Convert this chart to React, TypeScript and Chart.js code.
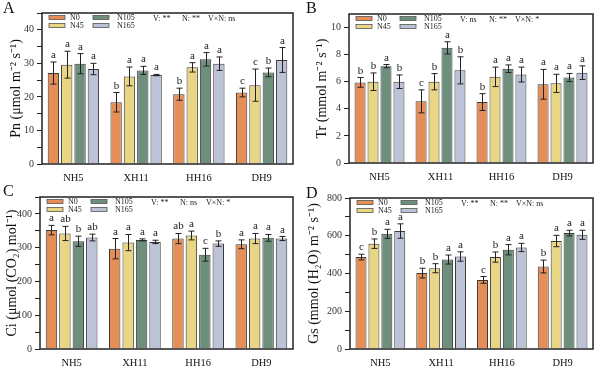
import React, { useEffect, useRef } from 'react';
import { Chart, registerables } from 'chart.js';

Chart.register(...registerables);

const categories = ['NH5', 'XH11', 'HH16', 'DH9'];
const seriesNames = ['N0', 'N45', 'N105', 'N165'];
const seriesColors = ['#E58E57', '#E9D684', '#6F8F7D', '#BCC3D6'];

// Panel A: Pn  (rows = series N0, N45, N105, N165; columns = categories)
const pnMeans = [
  [27.1, 18.4, 20.8, 21.3],
  [29.6, 26.1, 28.8, 23.5],
  [29.9, 27.9, 31.2, 27.3],
  [28.3, 26.5, 29.9, 31.0],
];
const pnErrors = [
  [3.3, 2.9, 1.8, 1.3],
  [4.0, 2.8, 1.4, 4.8],
  [3.0, 1.2, 2.0, 1.3],
  [1.7, 0.2, 2.0, 3.7],
];
const pnLetters = [
  ['a', 'b', 'b', 'c'],
  ['a', 'a', 'a', 'c'],
  ['a', 'a', 'a', 'b'],
  ['a', 'a', 'a', 'a'],
];
const pnStats = ['V: **', 'N: **', 'V×N: ns'];

// Panel B: Tr
const trMeans = [
  [5.95, 4.55, 4.5, 5.81],
  [6.0, 6.0, 6.36, 5.88],
  [7.15, 8.5, 6.96, 6.31],
  [6.0, 6.84, 6.53, 6.67],
];
const trErrors = [
  [0.36, 0.85, 0.62, 1.1],
  [0.65, 0.6, 0.72, 0.67],
  [0.12, 0.45, 0.28, 0.3],
  [0.5, 1.0, 0.55, 0.5],
];
const trLetters = [
  ['b', 'c', 'b', 'a'],
  ['b', 'b', 'a', 'a'],
  ['a', 'a', 'a', 'a'],
  ['b', 'b', 'a', 'a'],
];
const trStats = ['V: ns', 'N: **', 'V×N: *'];

// Panel C: Ci
const ciMeans = [
  [352, 297, 327, 310],
  [342, 315, 336, 327],
  [319, 323, 279, 329],
  [330, 317, 312, 327],
];
const ciErrors = [
  [14, 30, 15, 13],
  [21, 24, 13, 15],
  [15, 3, 19, 10],
  [10, 5, 8, 6],
];
const ciLetters = [
  ['a', 'a', 'ab', 'a'],
  ['ab', 'a', 'a', 'a'],
  ['b', 'a', 'c', 'a'],
  ['ab', 'a', 'b', 'a'],
];
const ciStats = ['V: **', 'N: ns', 'V×N: *'];

// Panel D: Gs
const gsMeans = [
  [487, 402, 366, 437],
  [558, 428, 487, 572],
  [610, 474, 526, 614],
  [625, 490, 538, 605],
];
const gsErrors = [
  [15, 26, 18, 34],
  [25, 24, 27, 30],
  [24, 24, 27, 15],
  [38, 25, 22, 24],
];
const gsLetters = [
  ['c', 'b', 'c', 'b'],
  ['b', 'b', 'b', 'a'],
  ['a', 'a', 'a', 'a'],
  ['a', 'a', 'a', 'a'],
];
const gsStats = ['V: **', 'N: **', 'V×N: ns'];

const SERIF = '"Liberation Serif", "Times New Roman", serif';

type PanelCfg = {
  letter: string;
  title: string;
  means: number[][];
  errors: number[][];
  letters: string[][];
  stats: string[];
  yMax: number;
  step: number;
  major: number;
  left: number;
  top: number;
  yWidth: number;
  xHeight: number;
  padTop: number;
  padRight: number;
  titlePad: number;
  letterX: number;
  letterY: number;
};

const panels: PanelCfg[] = [
  {
    letter: 'A', title: 'Pn (μmol m⁻² s⁻¹)', means: pnMeans, errors: pnErrors, letters: pnLetters, stats: pnStats,
    yMax: 45, step: 5, major: 10, left: 0, top: 0, yWidth: 42, xHeight: 19, padTop: 13, padRight: 7, titlePad: 8,
    letterX: 3, letterY: 13,
  },
  {
    letter: 'B', title: 'Tr (mmol m⁻² s⁻¹)', means: trMeans, errors: trErrors, letters: trLetters, stats: trStats,
    yMax: 11, step: 1, major: 2, left: 300, top: 0, yWidth: 49, xHeight: 20, padTop: 14, padRight: 7, titlePad: 14,
    letterX: 6, letterY: 13,
  },
  {
    letter: 'C', title: 'Ci (μmol (CO₂) mol⁻¹)', means: ciMeans, errors: ciErrors, letters: ciLetters, stats: ciStats,
    yMax: 450, step: 50, major: 100, left: 0, top: 183, yWidth: 40, xHeight: 17, padTop: 14, padRight: 7, titlePad: 4,
    letterX: 3, letterY: 13,
  },
  {
    letter: 'D', title: 'Gs (mmol (H₂O) m⁻² s⁻¹)', means: gsMeans, errors: gsErrors, letters: gsLetters, stats: gsStats,
    yMax: 800, step: 100, major: 200, left: 300, top: 183, yWidth: 50, xHeight: 17, padTop: 15, padRight: 7, titlePad: 6,
    letterX: 6, letterY: 15,
  },
];

function Panel({ cfg }: { cfg: PanelCfg }) {
  const ref = useRef<HTMLCanvasElement>(null);
  useEffect(() => {
    if (!ref.current) return;
    const overlay = {
      id: 'overlay',
      afterDatasetsDraw(chart: any) {
        const ctx = chart.ctx as CanvasRenderingContext2D;
        const ys = chart.scales.y;
        const a = chart.chartArea;
        ctx.save();
        // error bars + letters
        cfg.means.forEach((row, i) => {
          const meta = chart.getDatasetMeta(i);
          row.forEach((m, j) => {
            const el = meta.data[j];
            const x = Math.round(el.x) + 0.5;
            const e = cfg.errors[i][j];
            const yt = ys.getPixelForValue(m + e);
            const yb = ys.getPixelForValue(m - e);
            ctx.strokeStyle = '#222';
            ctx.lineWidth = 1;
            ctx.beginPath();
            ctx.moveTo(x, yt);
            ctx.lineTo(x, yb);
            ctx.moveTo(x - 3, yt);
            ctx.lineTo(x + 3, yt);
            ctx.moveTo(x - 3, yb);
            ctx.lineTo(x + 3, yb);
            ctx.stroke();
            ctx.fillStyle = '#222';
            ctx.font = `11px ${SERIF}`;
            ctx.textAlign = 'center';
            ctx.textBaseline = 'alphabetic';
            ctx.fillText(cfg.letters[i][j], x, yt - 4);
          });
        });
        // frame
        ctx.strokeStyle = '#222';
        ctx.lineWidth = 1.5;
        ctx.strokeRect(a.left, a.top, a.right - a.left, a.bottom - a.top);
        // legend
        const rows = [a.top + 4.5, a.top + 12.5];
        const cols = [
          [a.left + 7, a.left + 28],
          [a.left + 51, a.left + 75],
        ];
        ctx.font = `8px ${SERIF}`;
        ctx.textAlign = 'left';
        ctx.textBaseline = 'middle';
        seriesNames.forEach((name, i) => {
          const c = cols[Math.floor(i / 2)];
          const y = rows[i % 2];
          ctx.fillStyle = seriesColors[i];
          ctx.fillRect(c[0], y - 2, 16, 4);
          ctx.strokeStyle = '#555';
          ctx.lineWidth = 0.8;
          ctx.strokeRect(c[0], y - 2, 16, 4);
          ctx.fillStyle = '#222';
          ctx.fillText(name, c[1], y);
        });
        const statX = [a.left + 111, a.left + 140, a.left + 166];
        cfg.stats.forEach((s, k) => {
          ctx.fillText(s, statX[k], rows[0] + 1.5);
        });
        // panel letter
        ctx.font = `16px ${SERIF}`;
        ctx.textBaseline = 'alphabetic';
        ctx.fillStyle = '#111';
        ctx.fillText(cfg.letter, cfg.letterX, cfg.letterY);
        ctx.restore();
      },
    };

    const chart = new Chart(ref.current, {
      type: 'bar',
      data: {
        labels: categories,
        datasets: seriesNames.map((name, i) => ({
          label: name,
          data: cfg.means[i],
          backgroundColor: seriesColors[i],
          borderColor: '#3a3a3a',
          borderWidth: 1,
          categoryPercentage: 0.85,
          barPercentage: 0.85,
        })),
      },
      options: {
        responsive: false,
        animation: false,
        layout: { padding: { top: cfg.padTop, right: cfg.padRight, left: 0, bottom: 0 } },
        plugins: { legend: { display: false }, tooltip: { enabled: false } },
        scales: {
          x: {
            grid: { display: false, drawTicks: false, tickLength: 0 },
            border: { display: false },
            ticks: { font: { family: SERIF, size: 10.5 }, color: '#111', padding: 8 },
            afterFit: (s: any) => { s.height = cfg.xHeight; },
          },
          y: {
            min: 0,
            max: cfg.yMax,
            border: { display: false },
            grid: { drawOnChartArea: false, drawTicks: true, tickLength: 5, color: '#222', tickColor: '#222' },
            ticks: {
              stepSize: cfg.step,
              padding: 3,
              color: '#333',
              font: { family: SERIF, size: 10 },
              callback: (v: any) => (Math.abs(Number(v) % cfg.major) < 1e-9 ? String(v) : ''),
            },
            title: {
              display: true,
              text: cfg.title,
              font: { family: SERIF, size: 14 },
              color: '#111',
              padding: { top: cfg.titlePad, bottom: 0 },
            },
            afterFit: (s: any) => { s.width = cfg.yWidth; },
          },
        },
      },
      plugins: [overlay],
    } as any);
    return () => chart.destroy();
  }, [cfg]);
  return (
    <canvas
      ref={ref}
      width={300}
      height={183}
      style={{ position: 'absolute', left: cfg.left, top: cfg.top, width: 300, height: 183 }}
    />
  );
}

export default function App() {
  return (
    <div style={{ position: 'fixed', left: 0, top: 0, width: 600, height: 366, background: '#fff' }}>
      {panels.map((p) => (
        <Panel key={p.letter} cfg={p} />
      ))}
    </div>
  );
}
